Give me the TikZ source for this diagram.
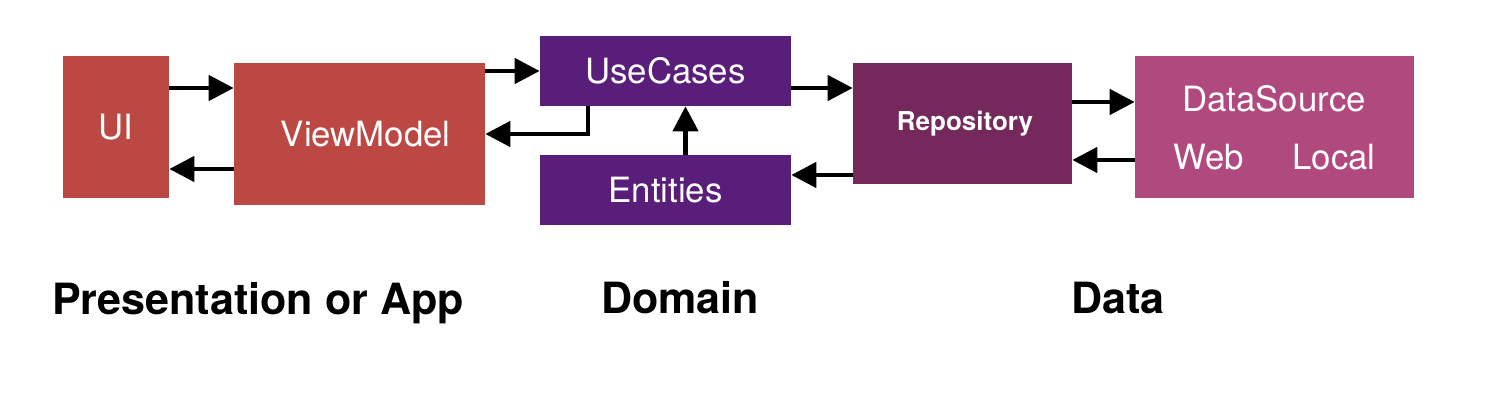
\documentclass[tikz,border=0pt]{standalone}
\usepackage{fontspec}
\setmainfont{TeX Gyre Heros}
\usetikzlibrary{arrows.meta,calc}
\definecolor{AppRed}{RGB}{187,72,67}
\definecolor{DomainPurple}{RGB}{89,29,122}
\definecolor{RepoPlum}{RGB}{116,40,91}
\definecolor{SourcePink}{RGB}{176,73,126}

\begin{document}
\begin{tikzpicture}[x=.02cm,y=-.02cm,>={Triangle[length=.5cm,width=.5cm]},
  blk/.style={fill=#1,text=white,inner sep=0pt,font=\fontsize{19.8}{22}\selectfont},
  flow/.style={->,line width=.09cm},
  layer/.style={font=\fontsize{24.5}{28}\selectfont\bfseries}]
\useasboundingbox (0,0) rectangle (1504,404);
% boxes
\node[blk=AppRed,minimum width=2.12cm,minimum height=2.84cm] (ui) at (116,127){UI};
\node[blk=AppRed,minimum width=5.02cm,minimum height=2.84cm] (vm) at (359.5,134){\hspace*{.25cm}ViewModel};
\node[blk=DomainPurple,minimum width=5.02cm,minimum height=1.4cm] (uc) at (665.5,71){UseCases};
\node[blk=DomainPurple,minimum width=5.02cm,minimum height=1.4cm] (ent) at (665.5,190){Entities};
\node[blk=RepoPlum,minimum width=4.38cm,minimum height=2.42cm,font=\fontsize{14.8}{17}\selectfont\bfseries] (repo) at (962.5,123.5){\hspace*{.1cm}Repository};
\node[blk=SourcePink,minimum width=5.58cm,minimum height=2.84cm] (ds) at (1274.5,127){};
\node[blk=SourcePink] (dsname) at (1274,99){DataSource};
\node[blk=SourcePink] (web) at (1209,157){Web};\node[blk=SourcePink] (local) at (1334,157){Local};
% arrows
\draw[flow] ([yshift=.78cm]ui.east) -- ([yshift=.78cm]ui.east -| vm.west);
\draw[flow] ([yshift=-.7cm]vm.west) -- ([yshift=-.7cm]vm.west -| ui.east);
\draw[flow] (vm.east |- uc.west) -- (uc.west);\draw[flow] ([xshift=-1.55cm]uc.south) |- (vm.east);
\draw[flow] ([xshift=.4cm]ent.north) -- ([xshift=.4cm]uc.south);
\draw[flow] ([yshift=.71cm]repo.west -| uc.east) -- ([yshift=.71cm]repo.west);
\draw[flow] ([yshift=-1.03cm]repo.west) -- ([yshift=-1.03cm]repo.west -| ent.east);
\draw[flow] ([yshift=.43cm]repo.east) -- ([yshift=.43cm]repo.east -| ds.west);
\draw[flow] ([yshift=-.73cm]repo.east -| ds.west) -- ([yshift=-.73cm]repo.east);
% layers
\node[layer] (app) at (258,303){Presentation or App};\node[layer] (dom) at (680,298){Domain};\node[layer] (dat) at (1118,298){Data};
\end{tikzpicture}
\end{document}
